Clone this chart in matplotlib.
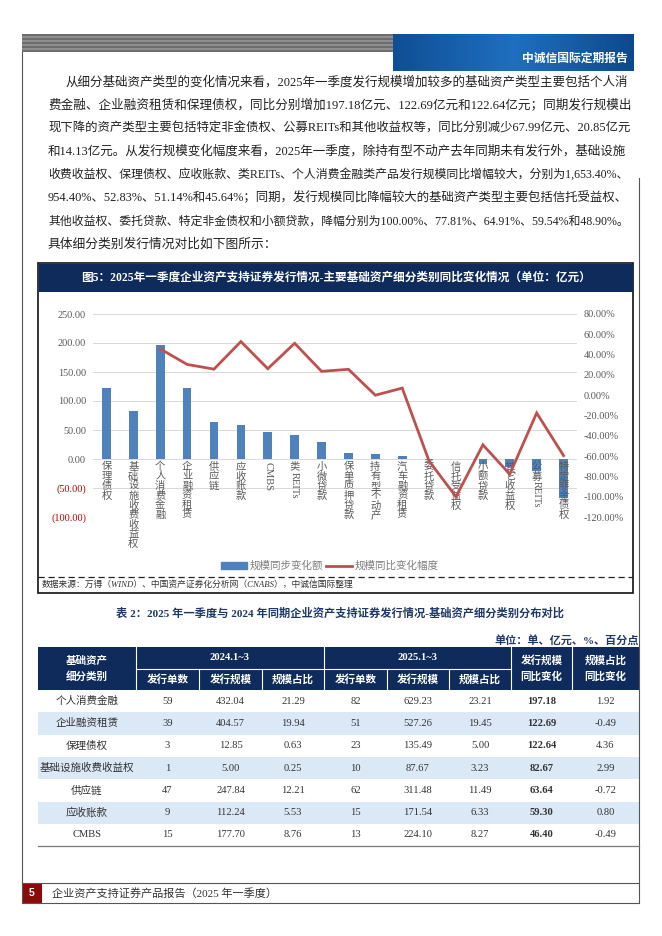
import re
import numpy as np
import matplotlib
matplotlib.use('Agg')
import matplotlib.pyplot as plt
import matplotlib.patches as mpatches
from matplotlib.lines import Line2D
from matplotlib.transforms import offset_copy

plt.rcParams['font.family'] = ['Liberation Serif', 'Noto Sans CJK SC']

# ---- chart data ----
categories = ['保理债权', '基础设施收费收益权', '个人消费金融', '企业融资租赁', '供应链', '应收账款',
              'CMBS', '类REITs', '小微贷款', '保单质押贷款', '持有型不动产', '汽车融资租赁',
              '委托贷款', '信托受益权', '小额贷款', '其它收益权', '公募REITs', '特定非金债权']
scale_change = [122.64, 82.67, 197.18, 122.69, 63.64, 59.30, 46.40, 42.0, 28.6, 11.0, 9.0, 6.0,
                -1.0, -0.8, -8.5, -14.13, -20.85, -67.99]
pct_change = [np.nan, np.nan, 45.64, 30.33, 25.68, 52.83, 26.11, 51.14, 23.5, 25.5, 0.0, 7.0,
              -64.91, -100.0, -48.90, -77.81, -17.5, -59.54]

# ---- table data ----
table_cats = ['个人消费金融', '企业融资租赁', '保理债权', '基础设施收费收益权', '供应链', '应收账款', 'CMBS']
cnt_2024 = [59, 39, 3, 1, 47, 9, 15]
amt_2024 = [432.04, 404.57, 12.85, 5.00, 247.84, 112.24, 177.70]
share_2024 = [21.29, 19.94, 0.63, 0.25, 12.21, 5.53, 8.76]
cnt_2025 = [82, 51, 23, 10, 62, 15, 13]
amt_2025 = [629.23, 527.26, 135.49, 87.67, 311.48, 171.54, 224.10]
share_2025 = [23.21, 19.45, 5.00, 3.23, 11.49, 6.33, 8.27]
amt_yoy = [197.18, 122.69, 122.64, 82.67, 63.64, 59.30, 46.40]
share_yoy = [1.92, -0.49, 4.36, 2.99, -0.72, 0.80, -0.49]

paragraph = [
    '从细分基础资产类型的变化情况来看，2025年一季度发行规模增加较多的基础资产类型主要包括个人消',
    '费金融、企业融资租赁和保理债权，同比分别增加197.18亿元、122.69亿元和122.64亿元；同期发行规模出',
    '现下降的资产类型主要包括特定非金债权、公募REITs和其他收益权等，同比分别减少67.99亿元、20.85亿元',
    '和14.13亿元。从发行规模变化幅度来看，2025年一季度，除持有型不动产去年同期未有发行外，基础设施',
    '收费收益权、保理债权、应收账款、类REITs、个人消费金融类产品发行规模同比增幅较大，分别为1,653.40%、',
    '954.40%、52.83%、51.14%和45.64%；同期，发行规模同比降幅较大的基础资产类型主要包括信托受益权、',
    '其他收益权、委托贷款、特定非金债权和小额贷款，降幅分别为100.00%、77.81%、64.91%、59.54%和48.90%。',
    '具体细分类别发行情况对比如下图所示：',
]

navy = '#0E2B5C'
grey = '#595959'
W, H = 662, 936

fig = plt.figure(figsize=(W / 100, H / 100), dpi=100)
page = fig.add_axes([0, 0, 1, 1], zorder=0)
page.set_xlim(0, W)
page.set_ylim(H, 0)
page.axis('off')

# header band
for k, y in enumerate(np.arange(34, 52, 2)):
    page.add_patch(mpatches.Rectangle((22, y), 371, 2, color='#6e6e6e' if k % 2 == 0 else '#8f8f8f', lw=0))
grad = np.linspace(0, 1, 100).reshape(1, -1)
page.imshow(grad, extent=(393, 634, 71, 34), cmap=matplotlib.colors.LinearSegmentedColormap.from_list(
    'b', ['#0f4f95', '#1f6fc0', '#0d4a8c']), aspect='auto', zorder=1)
page.text(628, 58, '中诚信国际定期报告', color='white', fontsize=8.5, fontweight='bold', ha='right', va='center',
          family='Noto Sans CJK SC', zorder=2)

# page frame
fx = 639
page.plot([22, 22], [52, 903], color='#555555', lw=0.8)
page.plot([fx, fx], [178, 903], color='#555555', lw=0.8)
page.plot([22, fx], [883, 883], color='#555555', lw=0.8)
page.plot([22, fx], [903, 903], color='#555555', lw=0.8)
page.add_patch(mpatches.Rectangle((22, 883), 20, 20, color='#8B0A0A', lw=0))
page.text(32, 893, '5', color='white', fontsize=7.5, fontweight='bold', ha='center', va='center',
          family='Liberation Sans')
page.text(52, 893, '企业资产支持证券产品报告（2025 年一季度）', fontsize=8, color='#333333', va='center')

# paragraph
para_objs = []
for i, line in enumerate(paragraph):
    x0 = 66 if i == 0 else 48
    t = page.text(x0, 82 + 23.2 * i, line, fontsize=9.2, color='#222222', va='center')
    para_objs.append((t, x0, i < len(paragraph) - 1))

# chart box
page.add_patch(mpatches.Rectangle((38, 263), 595, 330, fill=False, ec='#111111', lw=1.2))
page.add_patch(mpatches.Rectangle((39, 264), 594, 28, color=navy, lw=0))
page.text(336, 278, '图5：2025年一季度企业资产支持证券发行情况-主要基础资产细分类别同比变化情况（单位：亿元）',
          color='white', fontsize=8.4, fontweight='bold', ha='center', va='center')
page.plot([38, 633], [577, 577], color='#222222', lw=0.9, ls=(0, (5, 3)))
page.text(42, 585, '数据来源：万得（WIND）、中国资产证券化分析网（CNABS），中诚信国际整理',
          fontsize=6.3, style='italic', color='#333333', va='center')

# chart
ax = fig.add_axes([93 / W, 1 - 517 / H, 484 / W, 203 / H], zorder=2)
ax.patch.set_alpha(0)
x = np.arange(len(categories))
ax.bar(x, scale_change, width=0.32, color='#4F81BD', zorder=2)
ax.set_xlim(-0.5, len(categories) - 0.5)
ax.set_ylim(-100, 250)
lt = np.arange(-100, 251, 50)
ax.set_yticks(lt)
ax.set_yticklabels([f'{v:.2f}' if v >= 0 else f'({-v:.2f})' for v in lt])
for lab, v in zip(ax.get_yticklabels(), lt):
    lab.set_color('#C00000' if v < 0 else grey)
ax.tick_params(axis='y', length=0, pad=5, labelsize=7.4)
ax.set_xticks([])
ax.grid(axis='y', color='#D9D9D9', lw=0.7, zorder=0)
for s in ax.spines.values():
    s.set_visible(False)

ax2 = ax.twinx()
ax2.set_zorder(3)
ax2.plot(x, pct_change, color='#C0504D', lw=2.0, solid_joinstyle='miter')
ax2.set_ylim(-120, 80)
rt = np.arange(-120, 81, 20)
ax2.set_yticks(rt)
ax2.set_yticklabels([f'{v:.2f}%' for v in rt])
ax2.tick_params(axis='y', length=0, pad=5, labelsize=7.4, colors=grey)
for s in ax2.spines.values():
    s.set_visible(False)

fig.canvas.draw()
renderer = fig.canvas.get_renderer()

# justify paragraph lines to right margin
for t, x0, justify in para_objs:
    if justify:
        w = t.get_window_extent(renderer).width
        t.set_fontsize(t.get_fontsize() * (628 - x0) / w)

# vertical category labels (stacked CJK, rotated latin)
for i, name in enumerate(categories):
    off = 3.0
    for run in re.findall(r'[A-Za-z]+|[^A-Za-z]', name):
        tr = offset_copy(ax.transData, fig=fig, x=0, y=-off, units='dots')
        if run.isascii():
            t = ax.text(i, 0, run, transform=tr, rotation=-90, ha='center', va='top',
                        fontsize=7.6, color=grey)
            off += t.get_window_extent(renderer).height
        else:
            ax.text(i, 0, run, transform=tr, ha='center', va='top', fontsize=7.4, color=grey)
            off += 9.6

handles = [mpatches.Patch(color='#4F81BD'), Line2D([], [], color='#C0504D', lw=2)]
fig.legend(handles, ['规模同步变化额', '规模同比变化幅度'], loc='center', bbox_to_anchor=(330 / W, 1 - 566 / H),
           ncol=2, frameon=False, fontsize=7.6, labelcolor='#7f7f7f', handlelength=2.4, handleheight=0.6,
           columnspacing=0.3, handletextpad=0.3)

# table title
page.text(340, 613, '表 2：2025 年一季度与 2024 年同期企业资产支持证券发行情况-基础资产细分类别分布对比',
          fontsize=8.1, fontweight='bold', color='#1F3864', ha='center', va='center')
page.text(fx, 640, '单位：单、亿元、%、百分点', fontsize=8, fontweight='bold', color='#1F3864',
          ha='right', va='center')

# table
cols = [38, 136, 199, 262, 324, 387, 449, 511, 572, fx]
hy = [647, 669, 690]
rh = 22.3
page.add_patch(mpatches.Rectangle((cols[0], hy[0]), cols[-1] - cols[0], hy[2] - hy[0], color=navy, lw=0))
for c in cols[1:-1]:
    top = hy[1] if c in (199, 262, 387, 449) else hy[0]
    page.plot([c, c], [top, hy[2]], color='white', lw=0.8)
page.plot([cols[1], cols[7]], [hy[1], hy[1]], color='white', lw=0.8)
hdr = dict(color='white', fontsize=7.6, fontweight='bold', ha='center', va='center')
page.text((cols[0] + cols[1]) / 2, (hy[0] + hy[2]) / 2, '基础资产\n细分类别', linespacing=1.6, **hdr)
page.text((cols[1] + cols[4]) / 2, (hy[0] + hy[1]) / 2, '2024.1~3', **hdr)
page.text((cols[4] + cols[7]) / 2, (hy[0] + hy[1]) / 2, '2025.1~3', **hdr)
page.text((cols[7] + cols[8]) / 2, (hy[0] + hy[2]) / 2, '发行规模\n同比变化', linespacing=1.6, **hdr)
page.text((cols[8] + cols[9]) / 2, (hy[0] + hy[2]) / 2, '规模占比\n同比变化', linespacing=1.6, **hdr)
for j, name in enumerate(['发行单数', '发行规模', '规模占比'] * 2):
    page.text((cols[j + 1] + cols[j + 2]) / 2, (hy[1] + hy[2]) / 2, name, **hdr)

for r in range(len(table_cats)):
    y0 = hy[2] + r * rh
    if r % 2 == 1:
        page.add_patch(mpatches.Rectangle((cols[0], y0), cols[-1] - cols[0], rh, color='#DBE8F6', lw=0))
    vals = [table_cats[r], str(cnt_2024[r]), f'{amt_2024[r]:.2f}', f'{share_2024[r]:.2f}', str(cnt_2025[r]),
            f'{amt_2025[r]:.2f}', f'{share_2025[r]:.2f}', f'{amt_yoy[r]:.2f}', f'{share_yoy[r]:.2f}']
    for j, v in enumerate(vals):
        page.text((cols[j] + cols[j + 1]) / 2, y0 + rh / 2, v, fontsize=7.6, color='#333333',
                  ha='center', va='center', fontweight='bold' if j == 7 else 'normal')
page.plot([cols[0], cols[-1]], [hy[2] + rh * len(table_cats)] * 2, color='#777777', lw=0.9)

fig.savefig('out.png', dpi=100)
